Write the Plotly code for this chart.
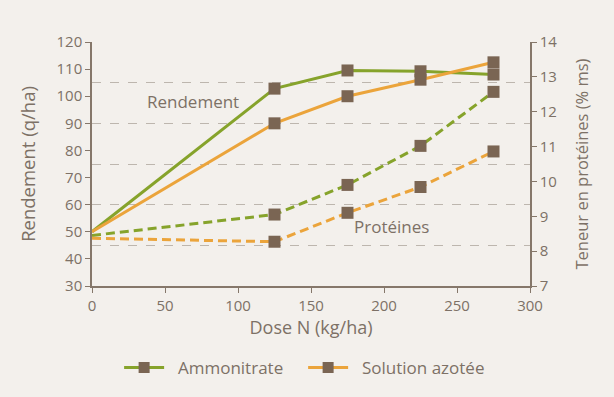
import plotly.graph_objects as go

dose = [0, 125, 175, 225, 275]
rend_ammo = [50, 102.8, 109.5, 109.2, 108]
rend_sol = [50, 90, 100, 106.1, 112.5]
prot_ammo = [8.45, 9.05, 9.9, 11.02, 12.57]
prot_sol = [8.37, 8.27, 9.1, 9.84, 10.86]
series_names = ["Ammonitrate", "Solution azotée"]

GREEN = "#86a32b"
ORANGE = "#eba43b"
MARK = "#7a6553"
TXT = "#7d7166"
AXIS = "#85776a"
BG = "#f3f0ec"
FONT = "Open Sans"

fig = go.Figure()

def add_series(y, color, dash, yaxis):
    fig.add_trace(go.Scatter(x=dose, y=y, mode="lines", line=dict(color=color, width=3, dash=dash),
                             yaxis=yaxis, showlegend=False, hoverinfo="skip"))

add_series(rend_ammo, GREEN, "solid", "y")
add_series(rend_sol, ORANGE, "solid", "y")
add_series(prot_ammo, GREEN, "9px,5px", "y2")
add_series(prot_sol, ORANGE, "9px,5px", "y2")

for y, ax in [(rend_ammo, "y"), (rend_sol, "y"), (prot_ammo, "y2"), (prot_sol, "y2")]:
    fig.add_trace(go.Scatter(x=dose[1:], y=y[1:], mode="markers",
                             marker=dict(symbol="square", size=12, color=MARK),
                             yaxis=ax, showlegend=False))

for name, color in zip(series_names, [GREEN, ORANGE]):
    fig.add_trace(go.Scatter(x=[None], y=[None], mode="lines+markers", name="\u00a0\u00a0" + name,
                             line=dict(color=color, width=3),
                             marker=dict(symbol="square", size=11, color=MARK)))

fig.add_annotation(x=69, y=98, text="Rendement", showarrow=False,
                   font=dict(size=17, color=TXT, family=FONT))
fig.add_annotation(x=205, y=52, text="Protéines", showarrow=False,
                   font=dict(size=17, color=TXT, family=FONT))

fig.update_layout(
    width=614, height=397,
    margin=dict(l=92, r=84, t=42, b=110),
    paper_bgcolor=BG, plot_bgcolor=BG,
    font=dict(family=FONT, color=TXT, size=15),
    xaxis=dict(range=[0, 300], dtick=50, showline=True, linecolor=AXIS, linewidth=1.5,
               ticks="outside", ticklen=5, tickcolor=AXIS, showgrid=False, zeroline=False,
               title=dict(text="Dose N (kg/ha)", font=dict(size=18), standoff=4),
               tickfont=dict(size=15)),
    yaxis=dict(range=[30, 120], dtick=10, showline=True, linecolor=AXIS, linewidth=1.5,
               ticks="outside", ticklen=5, tickcolor=AXIS, showgrid=False, zeroline=False,
               title=dict(text="Rendement (q/ha)", font=dict(size=18.5), standoff=16)),
    yaxis3=dict(range=[30, 120], dtick=15, overlaying="y", showgrid=True, gridcolor="#bdb6ae",
                griddash="dash", gridwidth=1, showticklabels=False, ticks="", showline=False,
                zeroline=False),
    yaxis2=dict(range=[7, 14], dtick=1, overlaying="y", side="right", showline=True,
                linecolor=AXIS, linewidth=1.5, ticks="outside", ticklen=5, tickcolor=AXIS,
                showgrid=False, zeroline=False,
                title=dict(text="Teneur en protéines (% ms)", font=dict(size=16.5), standoff=20)),
    legend=dict(orientation="h", x=0.482, xanchor="center", y=-0.33, yanchor="middle",
                font=dict(size=17), bgcolor="rgba(0,0,0,0)", itemwidth=40,
                entrywidth=129, entrywidthmode="pixels", tracegroupgap=0),
    showlegend=True,
)

fig.add_trace(go.Scatter(x=[None], y=[None], yaxis="y3", showlegend=False, hoverinfo="skip"))

fig.write_html("out.html", config={"displayModeBar": False},
               post_script="document.body.style.margin='0';document.body.style.background='#f3f0ec';")
